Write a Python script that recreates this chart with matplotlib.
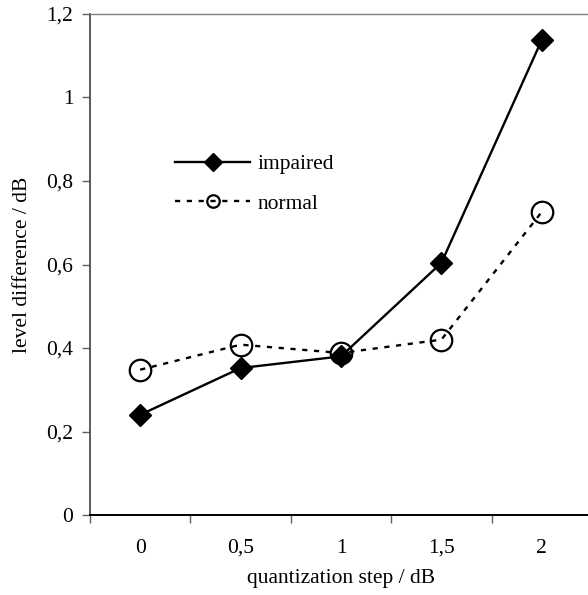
"""Level difference vs. quantization step, impaired vs. normal listeners."""

import matplotlib
import matplotlib.pyplot as plt
from matplotlib.lines import Line2D
from matplotlib.ticker import FuncFormatter, MultipleLocator

matplotlib.use("Agg")

# ---------------------------------------------------------------------------
# Data
# ---------------------------------------------------------------------------
categories = ["0", "0,5", "1", "1,5", "2"]
impaired = [0.24, 0.352, 0.38, 0.604, 1.138]
normal = [0.348, 0.408, 0.388, 0.42, 0.726]

FS = 15.5
DASH = (0, (2.2, 2.8))

plt.rcParams["font.family"] = ["Liberation Serif", "DejaVu Serif"]

fig = plt.figure(figsize=(5.88, 5.95), dpi=100)
ax = fig.add_axes([90 / 588, 1 - 515 / 595, 502 / 588, 501 / 595])

x = list(range(len(categories)))
ax.plot(x, impaired, color="black", linewidth=1.7, marker="D",
        markersize=11, markerfacecolor="black", markeredgecolor="black",
        label="impaired", zorder=3)
ax.plot(x, normal, color="black", linewidth=1.7, linestyle=DASH,
        marker="o", markersize=15.5, markerfacecolor="none",
        markeredgecolor="black", markeredgewidth=1.6, label="normal",
        zorder=3)

# Axes: category style, ticks between categories.
ax.set_xlim(-0.5, len(categories) - 0.5)
ax.set_ylim(0, 1.2)
ax.set_xticks([i - 0.5 for i in range(len(categories) + 1)])
ax.set_xticklabels([])
ax.set_xticks(x, minor=True)
ax.set_xticklabels(categories, minor=True)
ax.tick_params(axis="x", which="major", direction="out", length=6,
               width=1, color="#606060")
ax.tick_params(axis="x", which="minor", length=0, pad=17, labelsize=FS)

ax.yaxis.set_major_locator(MultipleLocator(0.2))
ax.yaxis.set_major_formatter(
    FuncFormatter(lambda v, _: f"{v:g}".replace(".", ",")))
ax.tick_params(axis="y", direction="out", length=6, width=1,
               color="#606060", labelsize=FS, pad=6)

ax.spines["left"].set_color("#404040")
ax.spines["left"].set_linewidth(1.2)
ax.spines["top"].set_color("#808080")
ax.spines["top"].set_linewidth(1.0)
ax.spines["right"].set_visible(False)
ax.spines["bottom"].set_color("black")
ax.spines["bottom"].set_linewidth(1.4)

ax.set_xlabel("quantization step / dB", fontsize=FS, labelpad=8)
ax.set_ylabel("level difference / dB", fontsize=FS, labelpad=10)

# Legend with smaller markers than the plotted points.
handles = [
    Line2D([], [], color="black", linewidth=1.7, marker="D", markersize=9,
           markerfacecolor="black"),
    Line2D([], [], color="black", linewidth=1.7, linestyle=DASH,
           marker="o", markersize=9, markerfacecolor="none",
           markeredgewidth=1.6),
]
ax.legend(handles, ["impaired", "normal"], loc="upper left",
          bbox_to_anchor=(0.169, 0.720), frameon=False, fontsize=FS,
          borderpad=0, borderaxespad=0, handlelength=3.5,
          handletextpad=0.33, labelspacing=0.9)

fig.savefig("out.png", dpi=100)
